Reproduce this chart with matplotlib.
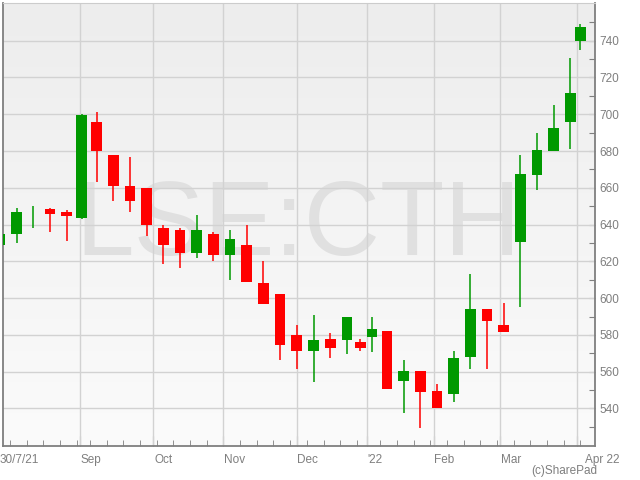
import numpy as np
import matplotlib.pyplot as plt
from matplotlib.colors import LinearSegmentedColormap

# Weekly candles for LSE:CTH (week starting Monday)
weeks = ['2021-07-26', '2021-08-02', '2021-08-09', '2021-08-16', '2021-08-23',
         '2021-08-30', '2021-09-06', '2021-09-13', '2021-09-20', '2021-09-27',
         '2021-10-04', '2021-10-11', '2021-10-18', '2021-10-25', '2021-11-01',
         '2021-11-08', '2021-11-15', '2021-11-22', '2021-11-29', '2021-12-06',
         '2021-12-13', '2021-12-20', '2021-12-27', '2022-01-03', '2022-01-10',
         '2022-01-17', '2022-01-24', '2022-01-31', '2022-02-07', '2022-02-14',
         '2022-02-21', '2022-02-28', '2022-03-07', '2022-03-14', '2022-03-21',
         '2022-03-28', '2022-04-04']
opens = [629, 635, 648.3, 648.5, 647, 643.5, 696, 678, 661, 660,
         638, 637, 624.5, 635, 623.5, 629, 608, 602, 580, 571.5,
         578, 577.5, 576, 579, 582, 555, 560.5, 549.5, 548, 568,
         594, 585.5, 630.5, 667, 680, 696, 740]
highs = [636, 649, 650, 649, 648, 700, 701, 678, 677, 660,
         640, 638, 645, 636, 637, 640, 620, 602, 585.5, 591,
         581, 590, 578, 590, 582, 566.5, 560.5, 553.5, 571, 613,
         594, 597.5, 678, 690, 705, 730.5, 749]
lows = [628, 630, 638, 636, 631, 643, 663, 653, 647, 634,
        618.5, 616.5, 622, 620, 610, 609, 597, 566.5, 561.5, 554.5,
        567.5, 569.5, 571.5, 570.5, 550.5, 537.5, 529.5, 540, 543.5, 561.5,
        561.5, 581.5, 595, 659, 680, 681, 735]
closes = [635, 647, 648.7, 646, 644.5, 699.5, 680, 661, 653, 640,
          629, 624.5, 636.8, 623.5, 632, 609, 597, 574.5, 571.5, 577,
          573, 590, 573, 583, 550.5, 560.5, 549, 540, 567.5, 594,
          587.5, 581.5, 667.5, 680.5, 692.5, 711.5, 747.5]

month_starts = ['2021-09-01', '2021-10-01', '2021-11-01', '2021-12-01',
                '2022-01-01', '2022-02-01', '2022-03-01', '2022-04-01']
month_labels = ['Sep', 'Oct', 'Nov', 'Dec', "'22", 'Feb', 'Mar', 'Apr 22']
holidays = ['2021-08-30', '2021-12-27', '2021-12-28', '2022-01-03']

# trading-day axis (index 0 = 30/7/21)
days = np.arange('2021-07-26', '2022-04-05', dtype='datetime64[D]')
days = days[np.is_busday(days, holidays=holidays)]
idx = np.arange(len(days)) - np.where(days == np.datetime64('2021-07-30'))[0][0]

wk = np.array(weeks, dtype='datetime64[D]')
xs = [idx[(days >= w) & (days < w + 7)].mean() for w in wk]
week_ticks = [idx[days >= w][0] for w in wk]
month_x = [idx[days >= np.datetime64(m)][0] for m in month_starts]

green, red = '#009900', '#ff0000'
gray = '#7f7f7f'

plt.rcParams['font.family'] = ['Liberation Sans', 'DejaVu Sans']
fig = plt.figure(figsize=(6.4, 4.8), dpi=100)
ax = fig.add_axes([3 / 640, 34 / 480, 592 / 640, 443 / 480])

x_lo, x_hi = -1.1, 176.4
y_lo, y_hi = 519.6, 760.5

# soft vertical gradient background
cmap = LinearSegmentedColormap.from_list('bg', ['#fbfbfb', '#ededed'])
ax.imshow(np.linspace(0, 1, 256).reshape(-1, 1), cmap=cmap, origin='lower',
          extent=[x_lo, x_hi, y_lo, y_hi], aspect='auto', zorder=0)

ax.text(0.498, 0.431, 'LSE:CTH', transform=ax.transAxes, fontsize=76,
        color='#e0e0e0', ha='center', va='baseline', zorder=1)

for x, o, h, l, c in zip(xs, opens, highs, lows, closes):
    col = green if c >= o else red
    ax.vlines(x, l, h, color=col, lw=1.1, zorder=3)
    ax.bar(x, max(abs(c - o), 0.4), bottom=min(o, c), width=3.2,
           color=col, zorder=4)

# grid
for v in range(540, 760, 20):
    ax.axhline(v, color='#d2d2d2', lw=1, zorder=2)
for mx in month_x:
    ax.axvline(mx, color='#d2d2d2', lw=1, zorder=2)

# y axis on the right
ax.yaxis.tick_right()
yt = np.arange(530, 760, 10)
ax.set_yticks(yt)
ax.set_yticklabels([str(v) if v % 20 == 0 else '' for v in yt])
ax.tick_params(axis='y', direction='in', length=4, color=gray, labelcolor=gray,
               labelsize=8.5, pad=3, right=True, left=False)

# x axis ticks
ax.set_xticks(month_x)
ax.set_xticklabels([])
ax.set_xticks(week_ticks, minor=True)
ax.tick_params(axis='x', which='major', direction='in', length=7, color=gray)
ax.tick_params(axis='x', which='minor', direction='in', length=4, color=gray)

ax.set_xlim(x_lo, x_hi)
ax.set_ylim(y_lo, y_hi)

ax.text(x_lo - 0.9, -0.032, '30/7/21', transform=ax.get_xaxis_transform(),
        ha='left', va='center', color=gray, fontsize=8.5)
for mx, lab in zip(month_x, month_labels):
    off = 2.4 if lab.startswith('Apr') else 0.2
    ax.text(mx + off, -0.032, lab, transform=ax.get_xaxis_transform(),
            ha='left', va='center', color=gray, fontsize=8.5)

for s in ['left', 'bottom', 'right']:
    ax.spines[s].set_color(gray)
    ax.spines[s].set_linewidth(1.3)
ax.spines['top'].set_color('#cccccc')

fig.text(597 / 640, 1 - 471 / 480, '(c)SharePad', ha='right', va='center',
         color=gray, fontsize=8.5)

fig.savefig('out.png', dpi=100)
